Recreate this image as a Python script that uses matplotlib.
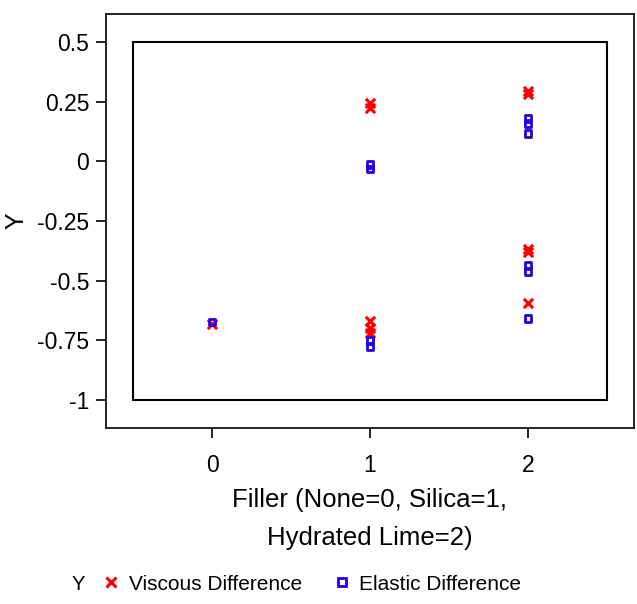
import matplotlib
matplotlib.use("Agg")
import matplotlib.pyplot as plt
from matplotlib.patches import Rectangle
from matplotlib.lines import Line2D

plt.rcParams['font.family'] = ['Liberation Sans', 'DejaVu Sans']

# Data
viscous_x = [0, 1, 1, 1, 1, 1, 2, 2, 2, 2, 2]
viscous_y = [-0.68, 0.243, 0.224, -0.668, -0.70, -0.72, 0.295, 0.280, -0.367, -0.380, -0.595]
elastic_x = [0, 1, 1, 1, 1, 2, 2, 2, 2, 2, 2]
elastic_y = [-0.673, -0.012, -0.032, -0.752, -0.777, 0.180, 0.158, 0.115, -0.437, -0.460, -0.660]

xticks = [0, 1, 2]
yticks = [0.5, 0.25, 0, -0.25, -0.5, -0.75, -1]
ytick_labels = ["0.5", "0.25", "0", "-0.25", "-0.5", "-0.75", "-1"]

fig = plt.figure(figsize=(6.37, 6.04), dpi=100)
ax = fig.add_axes([106/637, 176/604, 528/637, 414/604])

ax.scatter(viscous_x, viscous_y, marker='x', s=45, color='#ff0000', linewidths=2.2, zorder=3)
ax.scatter(elastic_x, elastic_y, marker='s', s=24, facecolors='none', edgecolors='#2200ee', linewidths=2.0, zorder=3)

ax.add_patch(Rectangle((-0.5, -1), 3, 1.5, fill=False, edgecolor='black', linewidth=1.5, zorder=2))

ax.set_xlim(-0.671, 2.671)
ax.set_ylim(-1.117, 0.617)
ax.set_xticks(xticks)
ax.set_xticklabels([str(t) for t in xticks])
ax.set_yticks(yticks)
ax.set_yticklabels(ytick_labels)
ax.tick_params(direction='out', length=7, width=1.2, labelsize=16.5)
ax.tick_params(axis='x', pad=12)
ax.tick_params(axis='y', pad=5)
for s in ax.spines.values():
    s.set_linewidth(1.2)

ax.set_xlabel("Filler (None=0, Silica=1,\nHydrated Lime=2)", fontsize=18.5, linespacing=1.72, labelpad=8)
ax.set_ylabel("Y", fontsize=18, labelpad=6)

fig.text(78/637, 1 - 584/604, "Y", fontsize=14.5, ha='center', va='center')
handles = [Line2D([], [], marker='x', linestyle='none', color='#ff0000', markersize=7, markeredgewidth=2.2),
           Line2D([], [], marker='s', linestyle='none', markerfacecolor='none', markeredgecolor='#2200ee',
                  markersize=5.5, markeredgewidth=2.0)]
fig.legend(handles, ["Viscous Difference", "Elastic Difference"], ncol=2, frameon=False,
           loc='center left', bbox_to_anchor=(80/637, 1 - 584/604), fontsize=15,
           handletextpad=0.25, columnspacing=1.3, handlelength=1.2)

fig.savefig("out.png", dpi=100)
